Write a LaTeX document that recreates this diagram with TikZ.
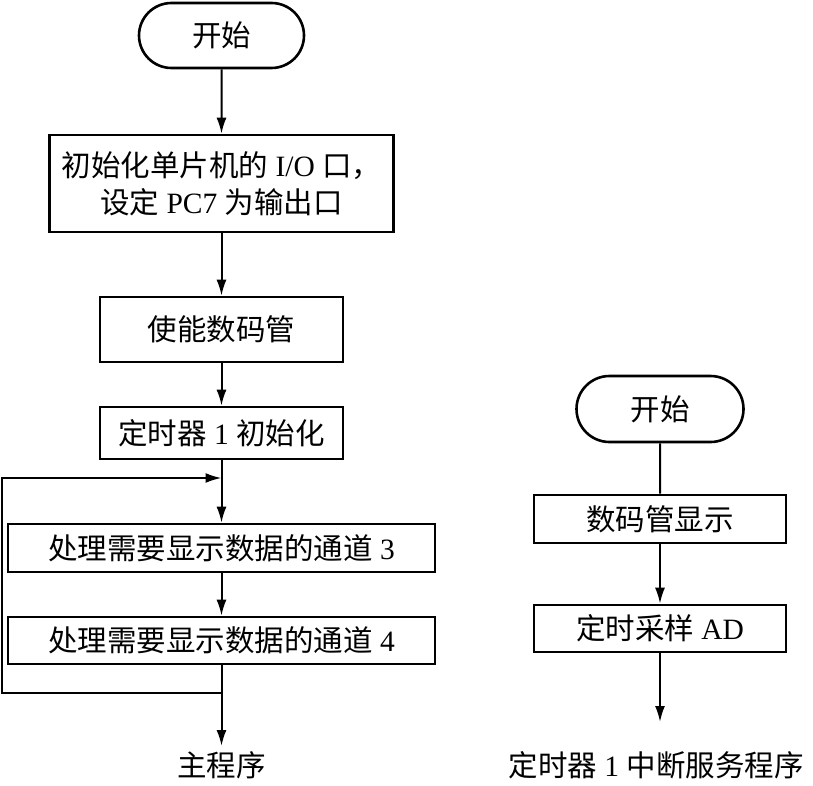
\documentclass[tikz,border=0pt]{standalone}
\usepackage{fontspec}
\setmainfont{Liberation Serif}
\newfontfamily\cjk{Noto Sans CJK SC}
\usetikzlibrary{arrows.meta,shapes.misc}
\begin{document}
\begin{tikzpicture}[x=1pt,y=-1pt,
  every node/.style={font=\fontsize{29.5}{37}\selectfont, inner sep=0pt, align=center},
  procbox/.style={draw, line width=2.6pt, rectangle},
  termbox/.style={draw, line width=2.6pt, rounded rectangle},
  flow/.style={line width=2pt},
  arr/.style={flow, -{Latex[length=16pt,width=10pt]}}
]
\useasboundingbox (0,0) rectangle (813,786);
% left column
\node[termbox, minimum width=165pt, minimum height=65pt] (s1) at (221.5,35.5) {\cjk 开始};
\node[procbox, minimum width=344pt, minimum height=97pt] (b1) at (221.5,183.5)
  {{\cjk 初始化单片机的} I/O {\cjk 口，}\\{\cjk 设定} PC7 {\cjk 为输出口}};
\node[procbox, minimum width=243pt, minimum height=65pt] (b2) at (221.5,329.5) {\cjk 使能数码管};
\node[procbox, minimum width=243pt, minimum height=52pt] (b3) at (221.5,433) {{\cjk 定时器} 1 {\cjk 初始化}};
\node[procbox, minimum width=427pt, minimum height=48pt] (b4) at (221.5,548) {{\cjk 处理需要显示数据的通道} 3};
\node[procbox, minimum width=427pt, minimum height=47pt] (b5) at (221.5,640.5) {{\cjk 处理需要显示数据的通道} 4};
\node (m) at (221.5,765) {\cjk 主程序};
\coordinate (jt) at (221.5,478);
\coordinate (jb) at (221.5,693);
\coordinate (lt) at (2,478);
\coordinate (lb) at (2,693);
\coordinate (me) at (221.5,746);
\draw[arr] (s1) -- (b1);
\draw[arr] (b1) -- (b2);
\draw[arr] (b2) -- (b3);
\draw[arr] (b3) -- (b4);
\draw[arr] (b4) -- (b5);
\draw[arr] (b5) -- (me);
\draw[arr] (jb) -- (lb) -- (lt) -- (jt);
% right column
\node[termbox, minimum width=167pt, minimum height=66pt] (s2) at (660,409) {\cjk 开始};
\node[procbox, minimum width=252pt, minimum height=48pt] (r1) at (660,519) {\cjk 数码管显示};
\node[procbox, minimum width=252pt, minimum height=47pt] (r2) at (660,628.5) {{\cjk 定时采样} AD};
\node (t) at (656,765) {{\cjk 定时器} 1 {\cjk 中断服务程序}};
\coordinate (re) at (660,722);
\draw[flow] (s2) -- (r1);
\draw[arr] (r1) -- (r2);
\draw[arr] (r2) -- (re);
\end{tikzpicture}
\end{document}
